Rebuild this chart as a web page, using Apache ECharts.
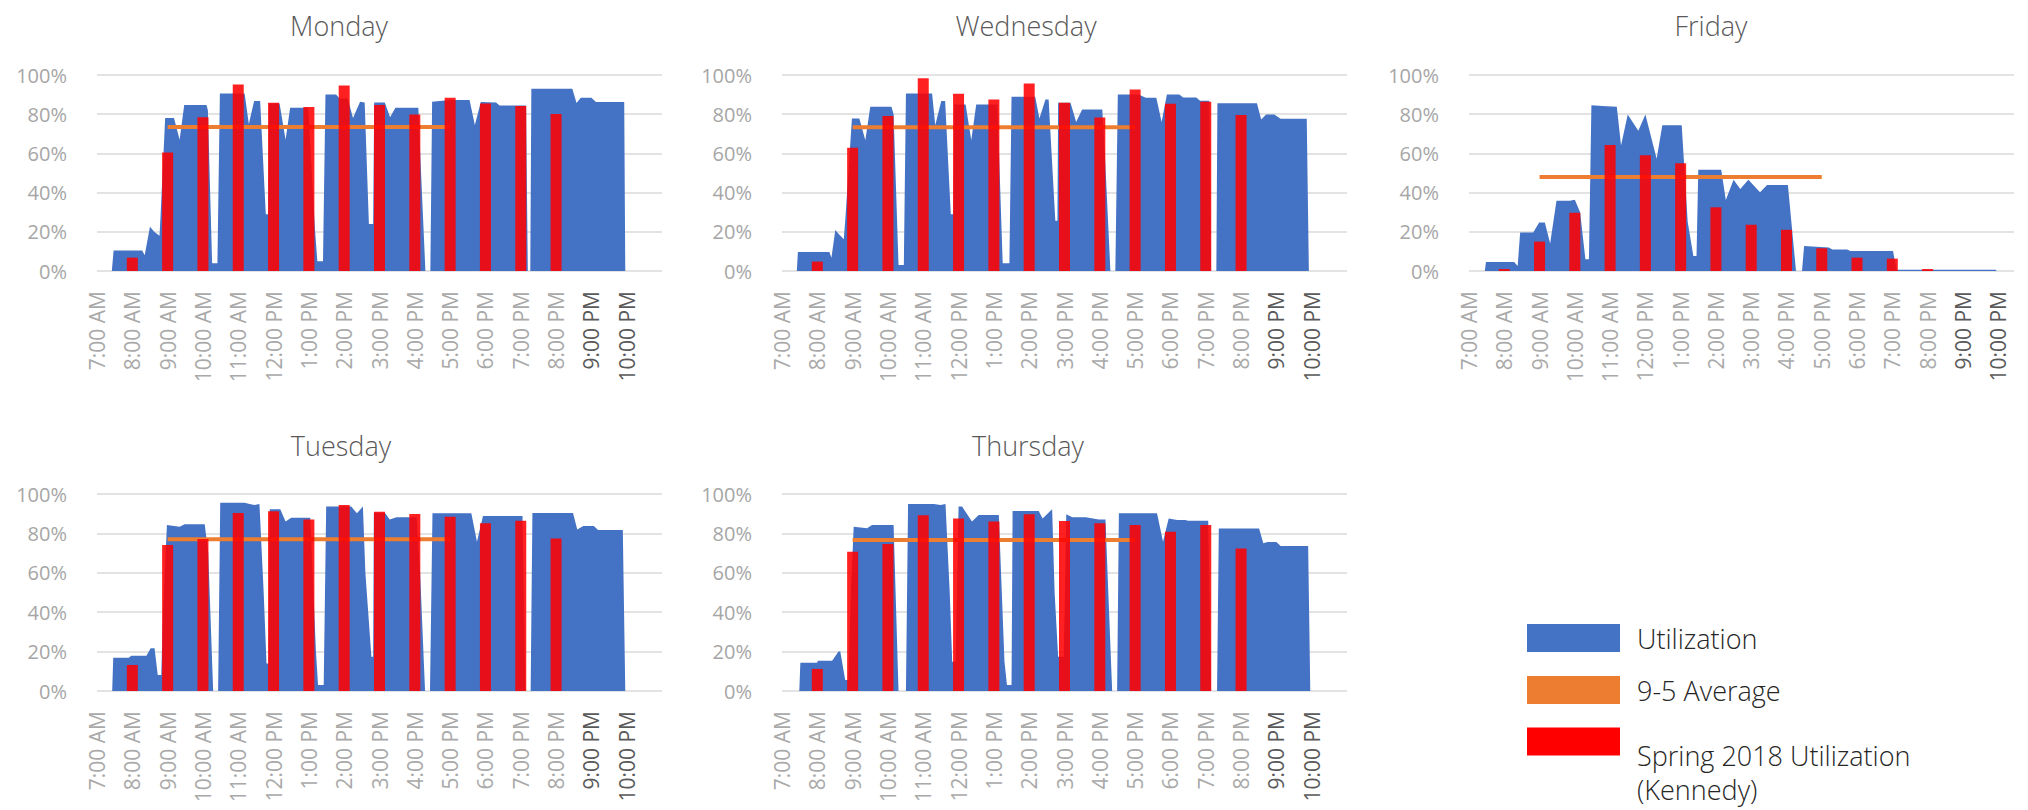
<!DOCTYPE html>
<html>
<head>
<meta charset="utf-8">
<script src="https://cdn.jsdelivr.net/npm/echarts@6/dist/echarts.min.js"></script>
<style>
html,body{margin:0;padding:0;background:#ffffff;}
#chart{width:2028px;height:810px;}
</style>
</head>
<body>
<div id="chart"></div>
<script>
// ---------------- data ----------------
const hourLabels = ['7:00 AM','8:00 AM','9:00 AM','10:00 AM','11:00 AM','12:00 PM','1:00 PM','2:00 PM',
  '3:00 PM','4:00 PM','5:00 PM','6:00 PM','7:00 PM','8:00 PM','9:00 PM','10:00 PM'];
const springHours = [8,9,10,11,12,13,14,15,16,17,18,19,20];

// Utilization: [hour of day, %]
const monUtil = [[7.42,0],[7.47,10.4],[8.28,10.4],[8.35,8],[8.5,22.6],[8.62,20],[8.77,18],[8.8,28],[8.93,78],[9.18,78],[9.34,67],[9.47,84.7],[10.1,84.7],[10.14,82],[10.26,4],[10.41,4],[10.48,90.6],[11.18,90.6],[11.3,75],[11.45,86.7],[11.62,86.7],[11.78,29],[11.85,29],[11.87,85.5],[12.17,85.5],[12.34,67],[12.47,83.3],[12.98,83.3],[13.17,22],[13.24,5],[13.4,5],[13.47,90],[13.77,90],[13.87,88],[14.1,88],[14.25,78],[14.45,86.4],[14.58,86],[14.7,24],[14.82,24],[14.85,86],[15.15,86],[15.3,78.4],[15.45,83.3],[16.1,83.3],[16.16,57],[16.3,0],[16.44,0],[16.49,86.4],[17.0,87.2],[17.55,87.2],[17.7,74.5],[17.87,86.2],[18.3,86],[18.4,84.5],[19.15,84.5],[19.2,0],[19.27,0],[19.3,93],[20.46,93],[20.58,85.7],[20.7,88.4],[21.0,88.4],[21.13,86.2],[21.93,86.2],[21.96,0]];
const wedUtil = [[7.42,0],[7.45,9.7],[8.34,9.7],[8.4,6.8],[8.51,20.9],[8.6,19],[8.75,16.2],[8.8,28],[8.98,77.8],[9.19,77.8],[9.36,66.7],[9.5,83.8],[10.1,83.8],[10.16,80],[10.3,3],[10.45,3],[10.51,90.6],[11.25,90.6],[11.34,74.4],[11.51,86.7],[11.62,86.7],[11.78,29],[11.85,29],[11.88,85],[12.2,85],[12.36,66.7],[12.5,85],[13.1,85],[13.25,4],[13.44,4],[13.5,88.9],[14.17,88.9],[14.29,77.8],[14.46,87.5],[14.55,87.5],[14.74,25.6],[14.8,25.6],[14.82,85.8],[15.17,85.8],[15.33,76],[15.5,82.4],[16.07,82.4],[16.15,57],[16.3,0],[16.44,0],[16.51,90],[17.1,90],[17.3,88.4],[17.6,88.4],[17.75,76],[17.9,90],[18.25,90],[18.36,88.5],[18.73,88.5],[18.84,86.8],[19.1,86.8],[19.15,0],[19.3,0],[19.33,85.6],[20.45,85.6],[20.57,77.3],[20.71,79.9],[20.94,79.9],[21.12,77.7],[21.86,77.7],[21.92,0]];
const friUtil = [[7.45,0],[7.48,4.6],[8.28,4.6],[8.38,2.6],[8.45,19.7],[8.82,19.7],[8.99,24.8],[9.15,24.8],[9.3,14],[9.48,35.9],[9.86,35.9],[10.0,36.4],[10.15,30],[10.3,6],[10.4,6],[10.47,84.6],[10.9,84],[11.19,83.8],[11.31,64],[11.5,79.8],[11.8,71.5],[12.0,79.8],[12.32,57.3],[12.48,74.4],[13.03,74.4],[13.2,25],[13.36,7.7],[13.45,7.7],[13.5,51.6],[14.15,51.6],[14.28,36.2],[14.5,46.5],[14.69,41.9],[14.92,46.5],[15.25,40.2],[15.45,43.9],[16.04,43.9],[16.27,0],[16.44,0],[16.5,12.8],[17.2,12],[17.3,11],[17.72,11],[17.81,10.2],[19.02,10.2],[19.12,0.6],[21.93,0.6],[21.96,0]];
const tueUtil = [[7.43,0],[7.46,16.9],[7.9,16.9],[7.97,17.9],[8.4,17.9],[8.52,21.7],[8.63,21.7],[8.72,8.1],[8.82,8.1],[8.87,40],[8.98,84.3],[9.34,83.4],[9.48,84.6],[10.05,84.6],[10.15,70],[10.29,0],[10.43,0],[10.49,95.6],[11.18,95.6],[11.32,94.9],[11.46,94.4],[11.6,94.9],[11.72,50],[11.8,14],[11.86,14],[11.89,92.2],[12.19,92.2],[12.34,86],[12.5,88],[13.04,88],[13.2,20],[13.26,3],[13.42,3],[13.49,93.6],[14.2,93.6],[14.36,90.2],[14.53,93.6],[14.6,60],[14.77,17.4],[14.82,17.4],[14.84,90.5],[15.15,90.5],[15.29,87.1],[15.48,88.2],[16.05,88.2],[16.15,60],[16.29,0],[16.43,0],[16.5,90.2],[17.6,90.2],[17.76,75.8],[17.93,88.8],[19.05,88.8],[19.13,0],[19.28,0],[19.33,90.3],[20.48,90.3],[20.6,82],[20.77,83.8],[21.07,83.8],[21.19,81.7],[21.89,81.7],[21.96,0]];
const thuUtil = [[7.49,0],[7.52,14.4],[7.99,14.4],[8.02,15.4],[8.42,15.4],[8.6,20],[8.65,20],[8.79,5.6],[8.88,5.6],[8.95,50],[9.03,83.4],[9.41,82.6],[9.55,84.3],[10.16,84.3],[10.3,0],[10.51,0],[10.57,94.9],[11.3,94.9],[11.49,94.4],[11.63,94.9],[11.75,50],[11.82,14.9],[11.92,14.9],[12.0,93.6],[12.1,93.6],[12.38,86],[12.57,89.3],[13.14,89.3],[13.3,15],[13.37,3],[13.5,3],[13.53,91.4],[14.27,91.4],[14.38,87.6],[14.65,92.2],[14.72,50],[14.82,17.4],[14.98,17.4],[15.05,89.7],[15.22,88.2],[15.6,88.2],[15.97,87.1],[16.16,87.1],[16.35,0],[16.49,0],[16.54,90.2],[17.62,90.2],[17.79,75.8],[17.95,87.6],[18.19,86.8],[18.42,86.8],[18.5,86.4],[19.07,86.4],[19.15,0],[19.32,0],[19.37,82.5],[20.51,82.5],[20.63,75],[20.75,75.6],[21.0,75.6],[21.12,73.6],[21.9,73.6],[21.96,0]];

// Spring 2018 Utilization (Kennedy), one value per hour in springHours
const monSpring = [6.8, 60.5, 78.4, 95.2, 85.9, 83.7, 94.6, 84.7, 79.9, 88.4, 85.5, 84.2, 80.1];
const wedSpring = [4.8, 62.9, 79.1, 98.3, 90.4, 87.5, 95.7, 85.8, 78.3, 92.6, 85.3, 86.3, 79.6];
const friSpring = [1, 15, 29.7, 64.3, 59, 55, 32.5, 23.6, 21, 11.6, 6.8, 6.3, 1];
const tueSpring = [13.2, 74.1, 77.2, 90.4, 91.2, 87.1, 94.4, 91, 89.8, 88.5, 85.1, 86.4, 77.4];
const thuSpring = [11.2, 70.7, 74.6, 89.2, 87.6, 86, 89.7, 86.3, 85.1, 84.3, 80.9, 84.3, 72.3];

// 9-5 averages
const avgStartHour = 9, avgEndHour = 17;
const monAvg = 73.5, wedAvg = 73.3, friAvg = 48, tueAvg = 77, thuAvg = 76.6;

const yTicks = [0, 20, 40, 60, 80, 100];

// ---------------- layout ----------------
const FONT = "'Open Sans', 'Noto Sans', 'DejaVu Sans', sans-serif";
const NAME_UTIL = 'Utilization';
const NAME_AVG = '9-5 Average';
const NAME_SPRING = 'Spring 2018 Utilization (Kennedy)';

const panels = [
  {title:'Monday',    util:monUtil, spring:monSpring, avg:monAvg, left:97,   top:75,  width:565, height:196, max:23,    tx:339,  ty:25},
  {title:'Wednesday', util:wedUtil, spring:wedSpring, avg:wedAvg, left:782,  top:75,  width:565, height:196, max:23,    tx:1026, ty:25},
  {title:'Friday',    util:friUtil, spring:friSpring, avg:friAvg, left:1469, top:75,  width:545, height:196, max:22.45, tx:1711, ty:25},
  {title:'Tuesday',   util:tueUtil, spring:tueSpring, avg:tueAvg, left:97,   top:494, width:565, height:197, max:23,    tx:341,  ty:445},
  {title:'Thursday',  util:thuUtil, spring:thuSpring, avg:thuAvg, left:782,  top:494, width:565, height:197, max:23,    tx:1028, ty:445}
];

function xLabel(v) {
  const r = Math.round(v);
  if (Math.abs(v - r) > 1e-6) return '';
  const i = r - 7;
  if (i < 0 || i >= hourLabels.length) return '';
  return r >= 21 ? '{d|' + hourLabels[i] + '}' : hourLabels[i];
}

const grid = [], xAxis = [], yAxis = [], series = [], title = [];
panels.forEach((p, i) => {
  grid.push({left:p.left, top:p.top, width:p.width, height:p.height, containLabel:false});
  title.push({
    text:p.title, left:p.tx, top:p.ty, textAlign:'center', textVerticalAlign:'middle', padding:0,
    textStyle:{fontFamily:FONT, fontSize:27, fontWeight:300, color:'#595959'}
  });
  xAxis.push({
    type:'value', gridIndex:i, min:7, max:p.max, interval:1,
    axisLine:{show:false}, axisTick:{show:false}, splitLine:{show:false},
    axisLabel:{
      rotate:90, margin:20, fontFamily:FONT, fontSize:21, color:'#a9a9a9',
      showMinLabel:true, showMaxLabel:true, formatter:xLabel,
      rich:{d:{fontFamily:FONT, fontSize:21, color:'#595959'}}
    }
  });
  yAxis.push({
    type:'value', gridIndex:i, min:yTicks[0], max:yTicks[yTicks.length-1], interval:yTicks[1]-yTicks[0],
    axisLine:{show:false}, axisTick:{show:false},
    splitLine:{lineStyle:{color:'#e3e3e3', width:2}},
    axisLabel:{formatter:'{value}%', margin:30, fontFamily:FONT, fontSize:20, color:'#a6a6a6'}
  });
  series.push({
    type:'line', name:NAME_UTIL, xAxisIndex:i, yAxisIndex:i, data:p.util,
    symbol:'none', lineStyle:{width:0, color:'#4472C4'}, itemStyle:{color:'#4472C4'},
    areaStyle:{color:'#4472C4', opacity:1}, z:1, silent:true, animation:false
  });
  series.push({
    type:'line', name:NAME_AVG, xAxisIndex:i, yAxisIndex:i,
    data:[[avgStartHour, p.avg], [avgEndHour, p.avg]],
    symbol:'none', lineStyle:{width:4, color:'#ED7D31'}, itemStyle:{color:'#ED7D31'},
    z:2, silent:true, animation:false
  });
  series.push({
    type:'bar', name:NAME_SPRING, xAxisIndex:i, yAxisIndex:i,
    data:springHours.map((h, k) => [h, p.spring[k]]),
    barWidth:11, itemStyle:{color:'#FF0000', opacity:0.87}, z:3, silent:true, animation:false
  });
});

const legendText = {fontFamily:FONT, fontSize:27, fontWeight:300, color:'#262626', lineHeight:28, padding:[0,0,0,12]};

const option = {
  backgroundColor:'#ffffff',
  animation:false,
  title:title,
  grid:grid, xAxis:xAxis, yAxis:yAxis, series:series,
  legend:[
    {
      orient:'vertical', left:1527, top:624, padding:0, itemGap:24,
      itemWidth:93, itemHeight:28, icon:'rect', selectedMode:false,
      data:[NAME_UTIL, NAME_AVG], textStyle:legendText
    },
    {
      orient:'vertical', left:1527, top:677, padding:0,
      itemWidth:93, itemHeight:28, icon:'rect', selectedMode:false,
      data:[{name:NAME_SPRING, itemStyle:{opacity:1}}],
      formatter:function(name){
        return name === NAME_SPRING ? '{s| }\n{t|Spring 2018 Utilization}\n{t|(Kennedy)}' : name;
      },
      textStyle:{
        fontFamily:FONT, fontSize:27, fontWeight:300, color:'#262626', padding:[0,0,0,12],
        rich:{
          s:{fontFamily:FONT, fontSize:10, lineHeight:61, height:61},
          t:{fontFamily:FONT, fontSize:27, fontWeight:300, color:'#262626', lineHeight:34}
        }
      }
    }
  ]
};

const chart = echarts.init(document.getElementById('chart'), null, {renderer:'svg', width:2028, height:810});
chart.setOption(option);
</script>
</body>
</html>
